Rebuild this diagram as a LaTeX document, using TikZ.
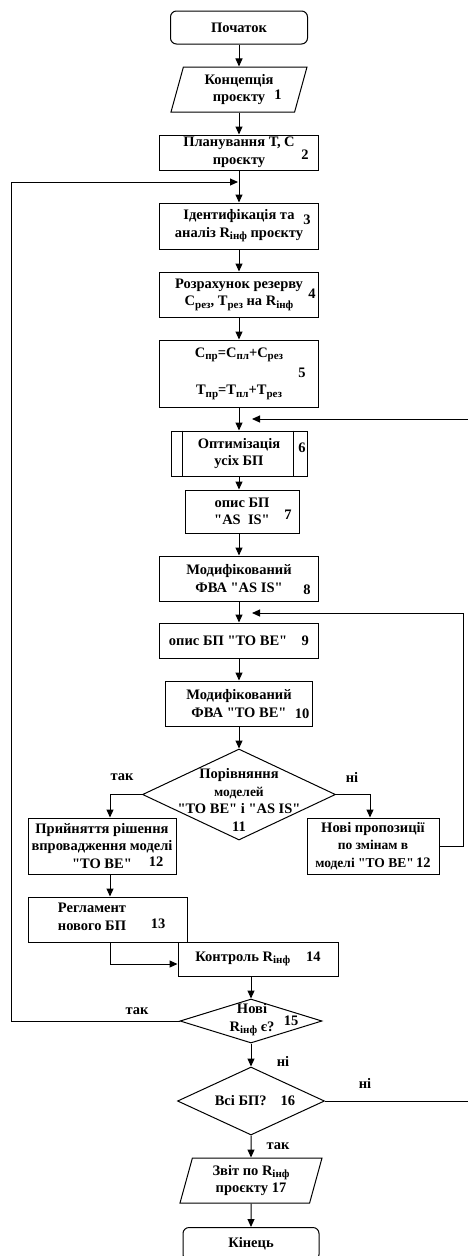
\documentclass[tikz,border=0pt]{standalone}
\usepackage{fontspec}
\setmainfont{Liberation Serif}[Ligatures=TeXOff]
\usetikzlibrary{shapes.geometric,arrows.meta}
\newcommand\idx[1]{\raisebox{-0.4ex}{\fontsize{11}{11}\selectfont #1}}

\begin{document}
\begin{tikzpicture}[x=1pt,y=-1pt,line width=1pt,
  every node/.style={font=\fontsize{14.5}{17.5}\selectfont\bfseries},
  term/.style={draw,rounded corners=6pt,inner sep=0pt},
  box/.style={draw,inner sep=0pt,align=center},
  io/.style={draw,trapezium,trapezium left angle=68,trapezium right angle=112,
    trapezium stretches body=true,inner sep=0pt,align=center},
  cond/.style={draw,diamond,inner sep=0pt},
  num/.style={inner sep=0pt},
  flow/.style={-{Triangle[length=8pt,width=7pt]}}]
  \useasboundingbox (0,0) rectangle (467,1256);

  % main column
  \node[term, minimum width=137pt, minimum height=33pt] (start) at (239,27.5) {Початок};
  \node[io, minimum width=136pt, minimum height=45pt] (concept) at (239,89.5) {Концепція\\проєкту};
  \node[num] (n1) at (278,95) {1};
  \node[box, minimum width=159pt, minimum height=35pt] (plan) at (239,152.5) {Планування Т, С\\проєкту};
  \node[num] (n2) at (305,155) {2};
  \coordinate (join3) at (239,182); % loop from 15
  \node[box, minimum width=159pt, minimum height=46pt] (ident) at (239,226) {Ідентифікація та\\аналіз R\idx{інф} проєкту};
  \node[num] (n3) at (307,220) {3};
  \node[box, minimum width=159pt, minimum height=45pt] (reserve) at (239,294.5) {Розрахунок резерву\\C\idx{рез}, T\idx{рез} на R\idx{інф}};
  \node[num] (n4) at (312,294) {4};
  \node[box, minimum width=159pt, minimum height=67pt] (cost) at (239,373.5) {C\idx{пр}=C\idx{пл}+C\idx{рез}\\[20pt]T\idx{пр}=T\idx{пл}+T\idx{рез}};
  \node[num] (n5) at (302,373) {5};
  \coordinate (back6) at (252,419); % loop from 16
  \node[box, minimum width=136pt, minimum height=45pt] (optim) at (239,453.5) {Оптимізація\\усіх БП};
  \draw ([xshift=12pt]optim.north west) -- ([xshift=12pt]optim.south west);
  \draw ([xshift=-14pt]optim.north east) -- ([xshift=-14pt]optim.south east);
  \node[num] (n6) at (302,448) {6};
  \node[box, minimum width=114pt, minimum height=43pt] (asis) at (242,511.5) {опис БП\\"AS\ \ IS"};
  \node[num] (n7) at (288,515) {7};
  \node[box, minimum width=159pt, minimum height=45pt] (fbaasis) at (239,578.5) {Модифікований\\ФВА "AS IS"};
  \node[num] (n8) at (307,590) {8};
  \coordinate (back9) at (252,613); % loop from 12
  \node[box, minimum width=159pt, minimum height=35pt] (tobe) at (239,640.5) {опис БП "TO BE"\quad 9};
  \node[box, minimum width=147pt, minimum height=45pt] (fbatobe) at (239,703.5) {Модифікований\\ФВА "TO BE"};
  \node[num] (n10) at (302,714) {10};

  % comparison
  \node[cond, minimum width=193pt, minimum height=91pt] (compare) at (239,794.5) {};
  \node[align=center] (compareT) at (239,800) {Порівняння\\{\fontsize{13.5}{17.5}\selectfont моделей}\\"TO BE" і "AS IS"\\11};
  \node[box, minimum width=148pt, minimum height=56pt] (accept) at (102,846) {Прийняття рішення\\впровадження моделі\\"TO BE"};
  \node[num] (n12a) at (156,862) {12};
  \node[box, minimum width=132pt, minimum height=56pt] (newprop) at (373,846) {Нові пропозиції\\{\fontsize{13.5}{17.5}\selectfont по змінам в}\\{\fontsize{13.5}{17.5}\selectfont моделі "TO BE"}\,12};
  \node[io, minimum width=159pt, minimum height=45pt] (rules) at (107.5,919.5) {};
  \node[align=center] (rulesT) at (92,917) {Регламент\\нового БП};
  \node[num] (n13) at (158,924) {13};
  \node[box, minimum width=160pt, minimum height=34pt] (control) at (258,959) {Контроль R\idx{інф}\hspace{16pt}14};

  % bottom
  \node[cond, minimum width=142pt, minimum height=44pt] (newrisk) at (251,1021) {};
  \node[align=center] (newriskT) at (252,1020) {Нові\\R\idx{інф} є?};
  \node[num] (n15) at (291,1021) {15};
  \node[cond, minimum width=147pt, minimum height=68pt] (allbp) at (251,1101) {};
  \node (allbpT) at (255,1101) {Всі БП?\hspace{14pt}16};
  \node[io, minimum width=142pt, minimum height=45pt] (report) at (251,1180.5) {Звіт по R\idx{інф}\\проєкту 17};
  \node[term, minimum width=136pt, minimum height=33pt] (finish) at (251,1244) {Кінець};

  % labels
  \node (yes1) at (122,777) {так};
  \node (no1) at (352,777) {ні};
  \node (yes2) at (137,1011) {так};
  \node (no2) at (283,1061) {ні};
  \node (no3) at (365,1083) {ні};
  \node (yes3) at (278,1146) {так};

  % arrows
  \draw[flow] (start) -- (concept);
  \draw[flow] (concept) -- (plan);
  \draw[flow] (plan) -- (ident);
  \draw[flow] (ident) -- (reserve);
  \draw[flow] (reserve) -- (cost);
  \draw[flow] (cost) -- (optim);
  \draw[flow] (optim.south) -- (optim.south |- asis.north);
  \draw[flow] (asis.south -| optim) -- (fbaasis);
  \draw[flow] (fbaasis) -- (tobe);
  \draw[flow] (tobe) -- (fbatobe);
  \draw[flow] (fbatobe) -- (compare);
  \draw[flow] (compare.west) -| ([xshift=8pt]accept.north);
  \draw[flow] (compare.east) -| ([xshift=-3pt]newprop.north);
  \draw[flow] ([xshift=8pt]accept.south) -- ([xshift=8pt]accept.south |- rules.north);
  \draw[flow] ([xshift=2.5pt]rules.south) |- ([yshift=-5pt]control.west);
  \draw[flow] (control.south -| newrisk) -- (newrisk.north);
  \draw[flow] (newrisk) -- (allbp);
  \draw[flow] (allbp) -- (report);
  \draw[flow] (report) -- (finish);
  % loops back
  \draw[flow, shorten >=1pt] (newrisk.west) -- ++(-168,0) |- (join3);
  \draw[flow] (newprop.east) -| (463,613) -- (back9);
  \draw[flow] (allbp.east) -| (469,419) -- (back6);
\end{tikzpicture}
\end{document}
